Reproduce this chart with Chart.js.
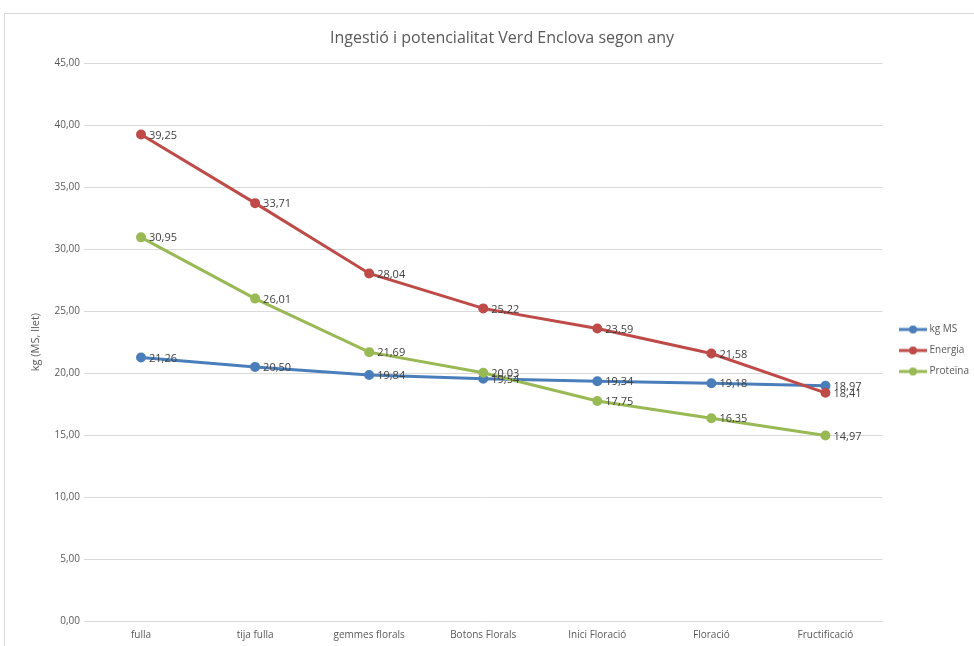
<!DOCTYPE html>
<html>
<head>
<meta charset="utf-8">
<script src="https://cdn.jsdelivr.net/npm/chart.js@4"></script>
<style>
  html, body { margin: 0; padding: 0; background: #fff; }
  #wrap { position: relative; width: 974px; height: 646px; overflow: hidden; }
  #frame { position: absolute; left: 4px; top: 13px; width: 975px; height: 640px; border: 1px solid #d9d9d9; pointer-events: none; }
</style>
</head>
<body>
<div id="wrap">
  <canvas id="chart" width="974" height="646"></canvas>
  <div id="frame"></div>
</div>
<script>
const labels = ['fulla', 'tija fulla', 'gemmes florals', 'Botons Florals', 'Inici Floració', 'Floració', 'Fructificació'];
const kgMS = [21.26, 20.50, 19.84, 19.54, 19.34, 19.18, 18.97];
const energia = [39.25, 33.71, 28.04, 25.22, 23.59, 21.58, 18.41];
const proteina = [30.95, 26.01, 21.69, 20.03, 17.75, 16.35, 14.97];

const blue = '#4a7ebb', red = '#be4b48', green = '#98b954';
const fmt = v => v.toFixed(2).replace('.', ',');

// line-with-dot marker for the legend (blank strip on the left)
function marker(color) {
  const c = document.createElement('canvas');
  c.width = 36; c.height = 10;
  const g = c.getContext('2d');
  g.strokeStyle = color; g.lineWidth = 3;
  g.beginPath(); g.moveTo(8, 5); g.lineTo(36, 5); g.stroke();
  g.fillStyle = color;
  g.beginPath(); g.arc(22, 5, 4, 0, Math.PI * 2); g.fill();
  return c;
}

const valueLabels = {
  id: 'valueLabels',
  afterDatasetsDraw(chart) {
    const ctx = chart.ctx;
    ctx.save();
    ctx.font = '11px "Open Sans"';
    ctx.fillStyle = '#404040';
    ctx.textBaseline = 'middle';
    chart.data.datasets.forEach((ds, i) => {
      chart.getDatasetMeta(i).data.forEach((pt, j) => {
        ctx.fillText(fmt(ds.data[j]), pt.x + 8, pt.y + 1);
      });
    });
    ctx.restore();
  }
};

function series(label, data, color, order) {
  return {
    label: label, data: data, order: order,
    borderColor: color, backgroundColor: color,
    borderWidth: 3, pointRadius: 3.5, pointBackgroundColor: color,
    pointBorderColor: color, tension: 0, fill: false
  };
}

new Chart(document.getElementById('chart').getContext('2d'), {
  type: 'line',
  data: {
    labels: labels,
    datasets: [
      series('kg MS', kgMS, blue, 3),
      series('Energia', energia, red, 2),
      series('Proteïna', proteina, green, 1)
    ]
  },
  options: {
    responsive: false,
    animation: false,
    layout: { padding: { top: 29, left: 25, right: -5, bottom: 4 } },
    plugins: {
      tooltip: { enabled: false },
      title: {
        display: true,
        text: 'Ingestió i potencialitat Verd Enclova segon any',
        color: '#595959',
        font: { family: 'Open Sans', size: 16, weight: 'normal' },
        padding: { top: 0, bottom: 15 }
      },
      legend: {
        position: 'right',
        title: { display: true, text: ' ', font: { size: 10 }, padding: { top: 9, bottom: 9 } },
        labels: {
          usePointStyle: true,
          pointStyleWidth: 31,
          color: '#595959',
          font: { family: 'Open Sans', size: 10 },
          padding: 11,
          generateLabels(chart) {
            return chart.data.datasets.map((ds, i) => ({
              text: ds.label,
              pointStyle: marker(ds.borderColor),
              fillStyle: ds.borderColor,
              strokeStyle: ds.borderColor,
              lineWidth: 0,
              fontColor: '#595959',
              datasetIndex: i
            }));
          }
        }
      }
    },
    scales: {
      x: {
        offset: true,
        grid: { display: false, drawTicks: false },
        border: { color: '#d9d9d9' },
        ticks: { color: '#595959', font: { family: 'Open Sans', size: 10 }, padding: 8, maxRotation: 0 },
        afterFit(s) { s.height = 21; }
      },
      y: {
        min: 0, max: 45,
        grid: { color: '#d9d9d9', drawTicks: false },
        border: { display: false },
        ticks: { stepSize: 5, color: '#595959', font: { family: 'Open Sans', size: 10 }, padding: 4, callback: v => fmt(v) },
        title: { display: true, text: 'kg (MS, llet)', color: '#595959', font: { family: 'Open Sans', size: 11 } },
        afterFit(s) { s.width = 59; }
      }
    }
  },
  plugins: [valueLabels]
});
</script>
</body>
</html>
